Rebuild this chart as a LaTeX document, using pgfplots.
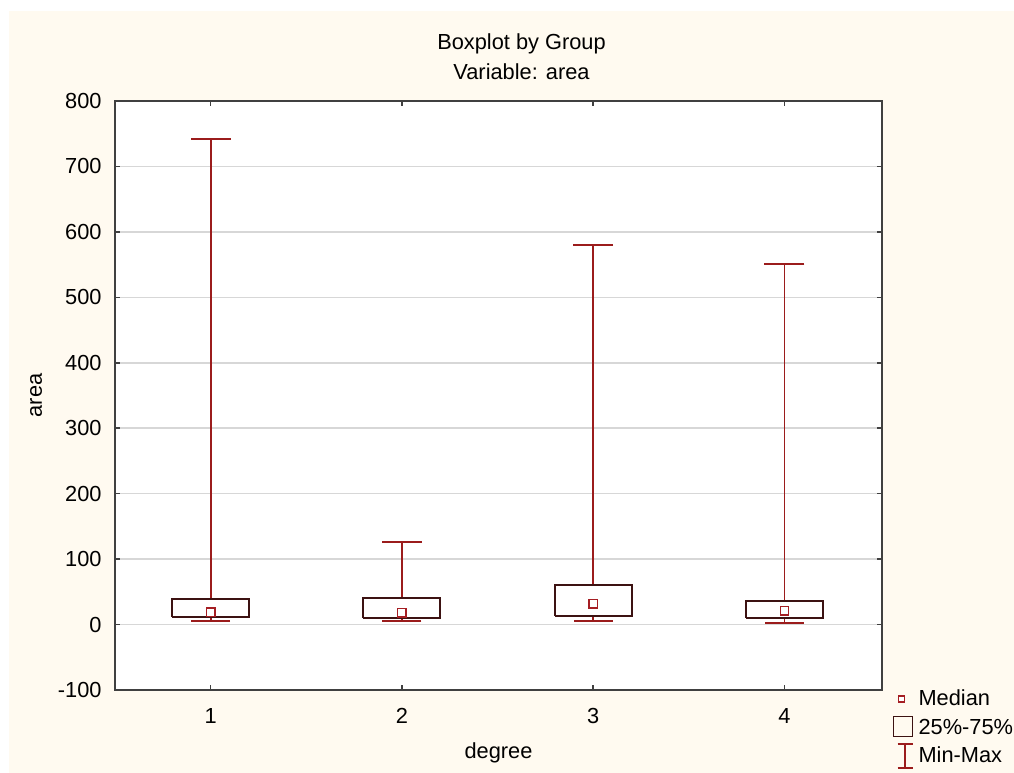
\documentclass[border=0pt]{standalone}
\usepackage{fontspec}
\setmainfont{Liberation Sans}
\usepackage{pgfplots}
\usepackage{pgfplotstable}
\pgfplotsset{compat=1.18}
\definecolor{cream}{RGB}{255,250,240}
\definecolor{whisk}{RGB}{155,28,28}
\definecolor{boxc}{RGB}{60,18,18}
\definecolor{medc}{RGB}{165,30,35}
\definecolor{axc}{RGB}{64,64,64}
\definecolor{gridc}{RGB}{215,215,215}
\newcommand{\ff}{\fontsize{10.9bp}{13bp}\selectfont}
% group, min, 25%, median, 75%, max
\pgfplotstableread{
x lw lq med uq uw
1 5.5 12 19 38.5 742
2 5.5 10 18 41 126
3 5.5 13 31.5 60.5 580
4 3 9.5 21 35.5 551
}\stats
\begin{document}
\begin{tikzpicture}[font=\ff]
\useasboundingbox (-57.5bp,-41.5bp) rectangle (449.5bp,345bp);
\fill[white] (-57.5bp,-41.5bp) rectangle (449.5bp,345bp);
\fill[cream] (-53bp,-41.5bp) rectangle (449.5bp,339.5bp);
\begin{axis}[
  scale only axis, width=383.5bp, height=294.5bp,
  at={(0,0)}, anchor=south west,
  xmin=0.5, xmax=4.51, ymin=-100, ymax=800,
  xtick={1,2,3,4}, ytick={-100,0,100,200,300,400,500,600,700,800},
  xtick pos=both, ytick pos=both, xticklabel pos=lower, yticklabel pos=left,
  tick align=inside, major tick length=2.5bp,
  tick style={axc, line width=0.75bp},
  axis line style={axc, line width=1bp},
  axis background/.style={fill=white},
  ymajorgrids, major grid style={gridc, line width=0.75bp},
  /pgf/number format/assume math mode=true,
  tick label style={font=\ff},
  yticklabel style={anchor=east, inner sep=0pt, xshift=-6.5bp},
  xticklabel style={anchor=base, inner sep=0pt, yshift=-16.5bp},
  xlabel={degree}, ylabel={area},
  xlabel style={at={(axis description cs:0.5,-0.1171)}, anchor=base, inner sep=0pt, font=\ff},
  ylabel style={at={(axis description cs:-0.0952,0.5)}, anchor=base, inner sep=0pt, font=\ff},
  clip=false,
  legend cell align=left,
  legend style={at={(rel axis cs:1.0143,0.0068)}, anchor=north west, draw=none, fill=none,
    inner sep=0pt, outer sep=0pt, row sep=0pt, column sep=2.5bp,
    nodes={inner sep=0pt, anchor=base west, text height=10bp, text depth=4.25bp, font=\ff}},
]
% upper whiskers (75% -> max)
\addplot[draw=none, mark=none, forget plot, error bars/.cd, y dir=plus, y explicit, error mark=none,
  error bar style={draw=whisk, line width=0.9bp, solid}]
  table[x=x, y=uq, y error expr=\thisrow{uw}-\thisrow{uq}] {\stats};
% lower whiskers (25% -> min)
\addplot[draw=none, mark=none, forget plot, error bars/.cd, y dir=minus, y explicit, error mark=none,
  error bar style={draw=whisk, line width=0.9bp, solid}]
  table[x=x, y=lq, y error expr=\thisrow{lq}-\thisrow{lw}] {\stats};
% caps
\addplot[only marks, mark=-, mark size=10bp, mark options={draw=whisk, line width=1bp}, forget plot] table[x=x, y=uw] {\stats};
\addplot[only marks, mark=-, mark size=9.75bp, mark options={draw=whisk, line width=1bp}, forget plot] table[x=x, y=lw] {\stats};
% boxes (25%-75%)
\addplot[boxc, line width=1bp, fill=white, forget plot] coordinates {(0.799,12) (1.201,12) (1.201,38.5) (0.799,38.5) (0.799,12)};
\addplot[boxc, line width=1bp, fill=white, forget plot] coordinates {(1.799,10) (2.201,10) (2.201,41) (1.799,41) (1.799,10)};
\addplot[boxc, line width=1bp, fill=white, forget plot] coordinates {(2.799,13) (3.201,13) (3.201,60.5) (2.799,60.5) (2.799,13)};
\addplot[boxc, line width=1bp, fill=white, forget plot] coordinates {(3.799,9.5) (4.201,9.5) (4.201,35.5) (3.799,35.5) (3.799,9.5)};
% medians
\addplot[only marks, mark=square*, mark size=2.1bp, mark options={draw=medc, fill=white, line width=0.75bp}, forget plot] table[x=x, y=med] {\stats};

\addlegendimage{legend image code/.code={\path (0,0) (9.5bp,0); \draw[medc, line width=0.75bp, fill=white] (2.35bp,1.9bp) rectangle (5.35bp,5.1bp);}}
\addlegendentry{Median}
\addlegendimage{legend image code/.code={\path (0,0) (9.5bp,0); \draw[boxc, line width=0.75bp] (0,-1bp) rectangle (9.5bp,9bp);}}
\addlegendentry{25\%-75\%}
\addlegendimage{legend image code/.code={\path (0,0) (9.5bp,0); \draw[whisk, line width=0.8bp] (5.75bp,-2.5bp) -- (5.75bp,9.5bp); \draw[whisk, line width=0.8bp] (2bp,-2.5bp) -- (9.5bp,-2.5bp); \draw[whisk, line width=0.8bp] (2bp,9.5bp) -- (9.5bp,9.5bp);}}
\addlegendentry{Min-Max}

\node[anchor=base] at (rel axis cs:0.530,1.0878) {Boxplot by Group};
\node[anchor=base] at (rel axis cs:0.530,1.0357) {Variable: area};
\end{axis}
\end{tikzpicture}
\end{document}
